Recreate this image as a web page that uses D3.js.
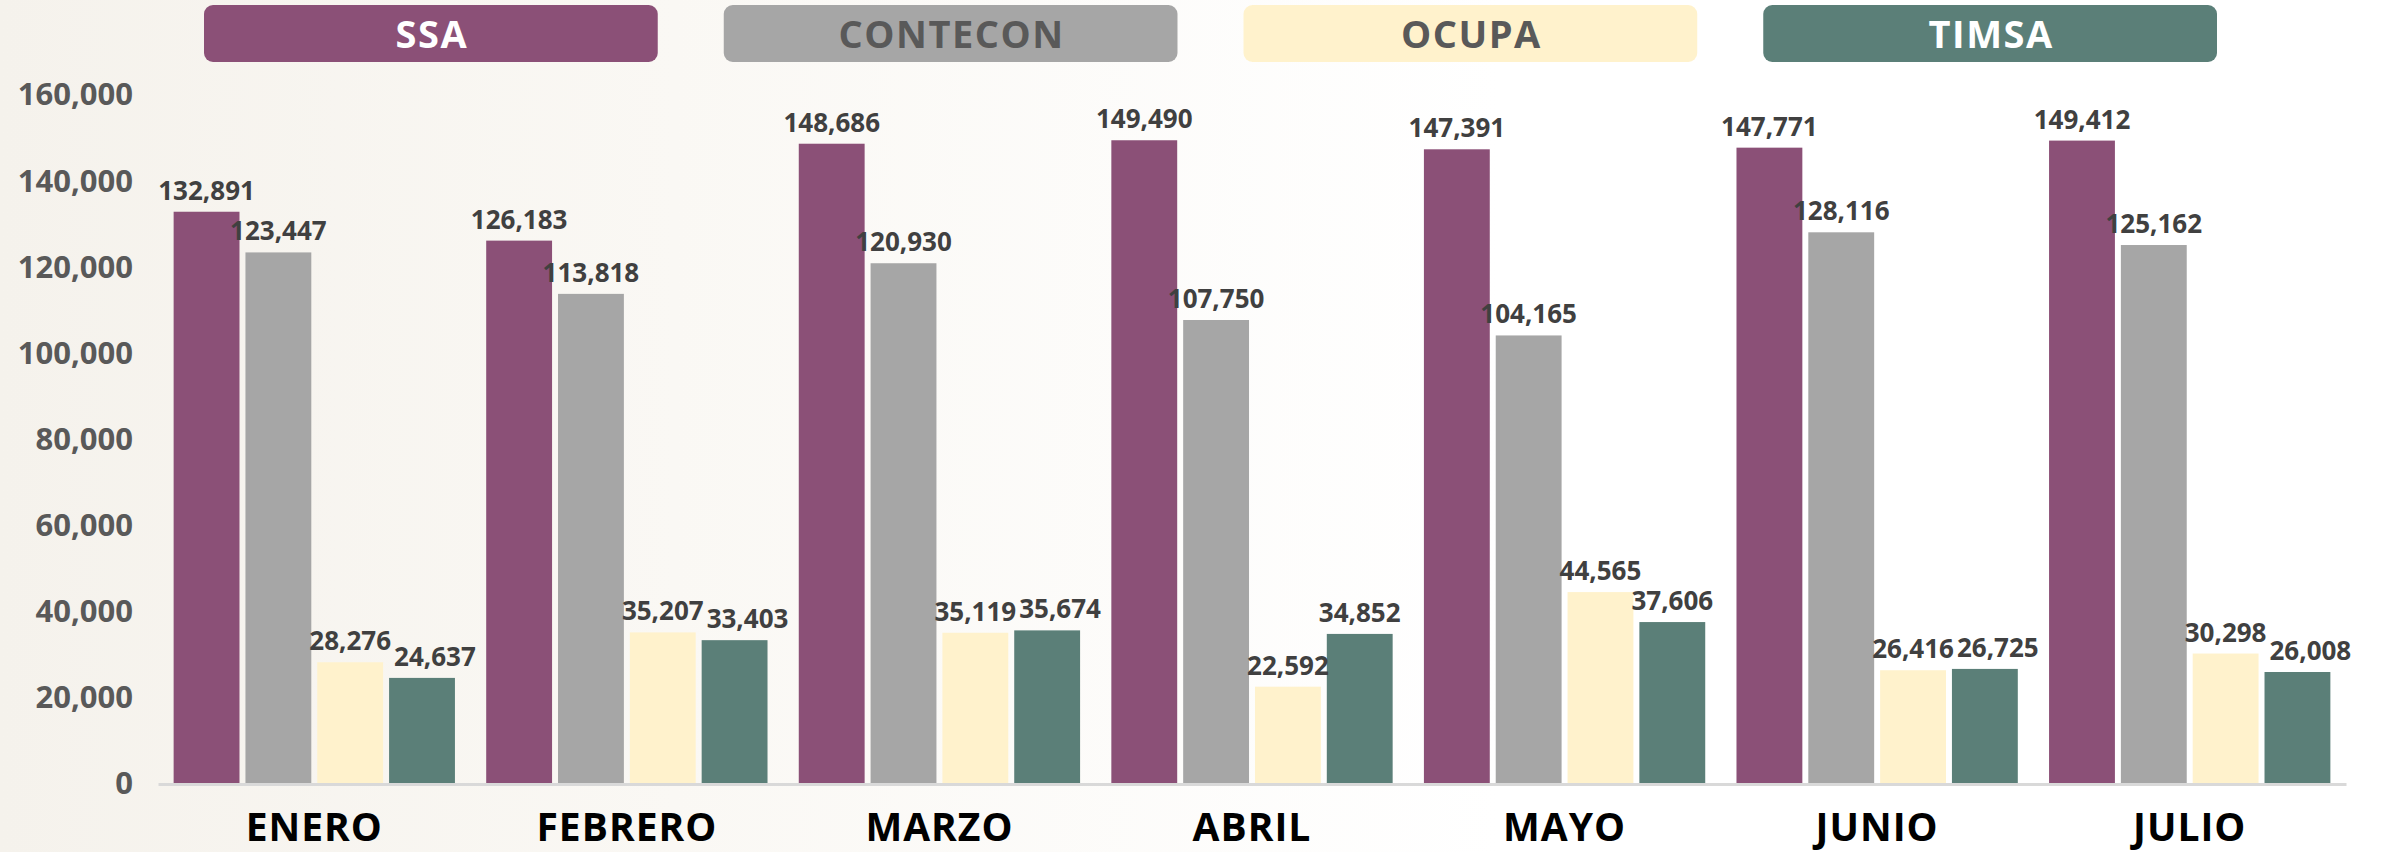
<!DOCTYPE html>
<html>
<head>
<meta charset="utf-8">
<script src="https://cdn.jsdelivr.net/npm/d3@7"></script>
<style>
  html, body { margin: 0; padding: 0; background: #fff; }
  svg { display: block; font-family: "Open Sans", "Lato", sans-serif; }
</style>
</head>
<body>
<svg id="chart"></svg>
<script>
// data
const months = ["ENERO", "FEBRERO", "MARZO", "ABRIL", "MAYO", "JUNIO", "JULIO"];
const series = ["SSA", "CONTECON", "OCUPA", "TIMSA"];
const ssa      = [132891, 126183, 148686, 149490, 147391, 147771, 149412];
const contecon = [123447, 113818, 120930, 107750, 104165, 128116, 125162];
const ocupa    = [28276, 35207, 35119, 22592, 44565, 26416, 30298];
const timsa    = [24637, 33403, 35674, 34852, 37606, 26725, 26008];
const yTicks   = [0, 20000, 40000, 60000, 80000, 100000, 120000, 140000, 160000];

const colors    = {SSA: "#8b5077", CONTECON: "#a6a6a6", OCUPA: "#fff2cc", TIMSA: "#5b7f78"};
const legendInk = {SSA: "#ffffff", CONTECON: "#595959", OCUPA: "#595959", TIMSA: "#ffffff"};

// build rows for d3
const values = {SSA: ssa, CONTECON: contecon, OCUPA: ocupa, TIMSA: timsa};
const rows = months.map((m, i) => ({
  month: m,
  bars: series.map(s => ({key: s, value: values[s][i]}))
}));

const W = 2392, H = 852;
const svg = d3.select("#chart").attr("width", W).attr("height", H);

// soft beige background on the left
const defs = svg.append("defs");
const grad = defs.append("linearGradient").attr("id", "bg").attr("x1", 0).attr("x2", 1).attr("y1", 0).attr("y2", 0);
grad.append("stop").attr("offset", "0%").attr("stop-color", "#f5f2ec");
grad.append("stop").attr("offset", "45%").attr("stop-color", "#faf8f4");
grad.append("stop").attr("offset", "100%").attr("stop-color", "#ffffff");
svg.append("rect").attr("width", 1500).attr("height", H).attr("fill", "url(#bg)");

// scales
const y = d3.scaleLinear().domain([0, 160000]).range([784, 95]);
const x0 = d3.scaleBand().domain(months).range([158, 2346]).paddingInner(0.1).paddingOuter(0.05);
const x1 = d3.scaleBand().domain(series).range([0, x0.bandwidth()]).paddingInner(0.083);

// y axis, labels only
const yAxis = svg.append("g")
  .attr("transform", "translate(133,0)")
  .call(d3.axisLeft(y).tickValues(yTicks).tickSize(0).tickPadding(0).tickFormat(d3.format(",")));
yAxis.select(".domain").remove();
yAxis.selectAll("text")
  .attr("font-family", "'Open Sans', sans-serif")
  .attr("font-size", 31).attr("font-weight", 700).attr("fill", "#595959");

// bars
const groups = svg.append("g").selectAll("g")
  .data(rows).join("g")
  .attr("transform", d => "translate(" + x0(d.month) + ",0)");

groups.selectAll("rect")
  .data(d => d.bars).join("rect")
  .attr("x", d => x1(d.key))
  .attr("y", d => y(d.value))
  .attr("width", x1.bandwidth())
  .attr("height", d => y(0) - y(d.value))
  .attr("fill", d => colors[d.key]);

// value labels
const fs = 26;
groups.each(function(d) {
  const g = d3.select(this);
  const labels = g.selectAll("text.val")
    .data(d.bars).join("text")
    .attr("class", "val")
    .attr("text-anchor", "middle")
    .attr("font-size", fs).attr("font-weight", 700).attr("fill", "#404040")
    .attr("x", b => x1(b.key) + x1.bandwidth() / 2)
    .attr("y", b => y(b.value) - 12)
    .text(b => d3.format(",")(b.value));
  // nudge right when a label runs into its left neighbour
  let prev = null;
  labels.each(function() {
    const t = d3.select(this);
    const w = this.getComputedTextLength();
    let cx = +t.attr("x");
    const by = +t.attr("y");
    const box = {l: cx - w / 2, r: cx + w / 2, top: by - fs * 0.74, bot: by};
    if (prev && box.l < prev.r + 3 && box.top < prev.bot && box.bot > prev.top) {
      const shift = prev.r + 3 - box.l;
      cx += shift; box.l += shift; box.r += shift;
      t.attr("x", cx);
    }
    prev = box;
  });
});

// x axis: baseline and month names
const xAxis = svg.append("g")
  .attr("transform", "translate(0," + y(0) + ")")
  .call(d3.axisBottom(x0).tickSize(0).tickPadding(29));
xAxis.select(".domain").attr("stroke", "#d9d9d9").attr("stroke-width", 3);
xAxis.selectAll("text")
  .attr("font-family", "'Open Sans', sans-serif")
  .attr("font-size", 39).attr("font-weight", 700).attr("fill", "#000")
  .attr("letter-spacing", 1);

// legend boxes on top
const lx = d3.scaleBand().domain(series).range([204, 2217]).paddingInner(0.127);
const leg = svg.append("g").selectAll("g")
  .data(series).join("g")
  .attr("transform", s => "translate(" + lx(s) + ",5)");
leg.append("rect")
  .attr("width", lx.bandwidth()).attr("height", 57).attr("rx", 9)
  .attr("fill", s => colors[s]);
leg.append("text")
  .attr("x", lx.bandwidth() / 2 + 1).attr("y", 29)
  .attr("dy", "0.36em")
  .attr("text-anchor", "middle")
  .attr("font-size", 38).attr("font-weight", 700)
  .attr("letter-spacing", 1.5)
  .attr("fill", s => legendInk[s])
  .text(s => s);
</script>
</body>
</html>
